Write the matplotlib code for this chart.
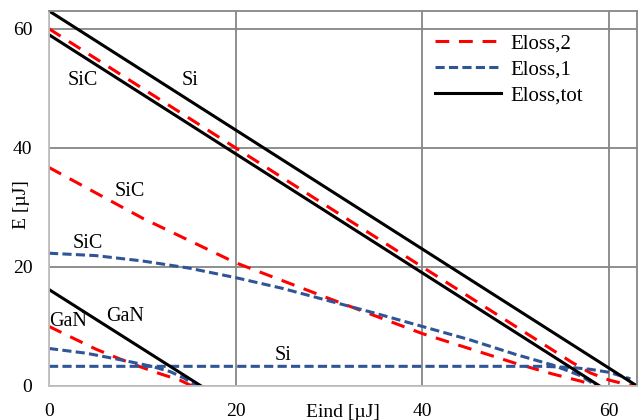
import matplotlib
matplotlib.use('Agg')
import matplotlib.pyplot as plt

plt.rcParams['font.family'] = ['Liberation Serif', 'DejaVu Serif']

# Eloss,tot (black)
si_tot_x = [0, 63]
si_tot_y = [63, 0]
sic_tot_x = [0, 59]
sic_tot_y = [59, 0]
gan_tot_x = [0, 16.3]
gan_tot_y = [16.2, 0]

# Eloss,2 (red)
si_2_x = [0, 56, 58, 60, 61.5, 62.8]
si_2_y = [60, 4, 2.2, 1.0, 0.4, 0]
sic_2_x = [0, 10, 20, 30, 40, 45, 50, 54, 57, 58.7]
sic_2_y = [36.7, 28.2, 20.7, 14.7, 8.8, 6.3, 3.8, 2.0, 0.8, 0]
gan_2_x = [0, 2.5, 5, 7.5, 10, 12, 14, 15.3]
gan_2_y = [10, 8.1, 6.2, 4.6, 3.1, 2.0, 1.0, 0]

# Eloss,1 (blue)
si_1_x = [0, 53, 56, 58, 60, 62.3]
si_1_y = [3.3, 3.3, 3.1, 2.8, 2.3, 1.2]
sic_1_x = [0, 5, 10, 15, 20, 25, 30, 35, 40, 45, 50, 54, 57, 58.7]
sic_1_y = [22.3, 21.9, 21.0, 19.8, 18.2, 16.4, 14.3, 12.2, 10.0, 7.8, 5.3, 3.5, 1.7, 0]
gan_1_x = [0, 4, 8, 11, 13, 14.5, 15.8]
gan_1_y = [6.3, 5.5, 4.3, 3.3, 2.4, 1.3, 0]

ticks = [0, 20, 40, 60]

red = '#FF0000'
blue = '#2F5597'
red_dash = (4.5, 3.2)
blue_dash = (3.0, 1.4)
lw = 2.2

fig = plt.figure(figsize=(6.38, 4.2), dpi=100)
ax = fig.add_axes([0.0768, 0.081, 0.9216, 0.893])

ax.plot(sic_2_x, sic_2_y, color=red, lw=lw, dashes=red_dash)
ax.plot(gan_2_x, gan_2_y, color=red, lw=lw, dashes=red_dash)
ax.plot(si_2_x, si_2_y, color=red, lw=lw, dashes=red_dash, label='Eloss,2')
ax.plot(sic_1_x, sic_1_y, color=blue, lw=lw, dashes=blue_dash)
ax.plot(gan_1_x, gan_1_y, color=blue, lw=lw, dashes=blue_dash)
ax.plot(si_1_x, si_1_y, color=blue, lw=lw, dashes=blue_dash, label='Eloss,1')
ax.plot(sic_tot_x, sic_tot_y, color='black', lw=lw)
ax.plot(gan_tot_x, gan_tot_y, color='black', lw=lw)
ax.plot(si_tot_x, si_tot_y, color='black', lw=lw, label='Eloss,tot')

ax.set_xlim(0, 63)
ax.set_ylim(0, 63)
ax.set_xticks(ticks)
ax.set_yticks(ticks)
ax.tick_params(length=0, labelsize=14, pad=12)
ax.grid(True, color='#868686', lw=1.3)
ax.set_axisbelow(True)
for s in ['top', 'right']:
    ax.spines[s].set_color('#868686')
    ax.spines[s].set_linewidth(1.3)
for s in ['left', 'bottom']:
    ax.spines[s].set_color('#BFBFBF')
    ax.spines[s].set_linewidth(1.3)

ax.set_xlabel('Eind [µJ]', fontsize=14, va='center')
ax.xaxis.set_label_coords(0.5, -0.072)
ax.set_ylabel('E [µJ]', fontsize=14, va='center')
ax.yaxis.set_label_coords(-0.046, 0.483)

ann = dict(fontsize=14.5, ha='center', va='center')
ax.text(3.6, 51.3, 'SiC', **ann)
ax.text(15.1, 51.3, 'Si', **ann)
ax.text(8.7, 32.6, 'SiC', **ann)
ax.text(4.2, 24.0, 'SiC', **ann)
ax.text(8.1, 11.7, 'GaN', **ann)
ax.text(2.0, 10.8, 'GaN', **ann)
ax.text(25.1, 5.2, 'Si', **ann)

ax.legend(loc='upper left', bbox_to_anchor=(0.656, 0.939), frameon=False,
          fontsize=15, borderpad=0, borderaxespad=0, handlelength=3.2,
          handletextpad=0.43, labelspacing=0.3)

fig.savefig('out.png', dpi=100)
